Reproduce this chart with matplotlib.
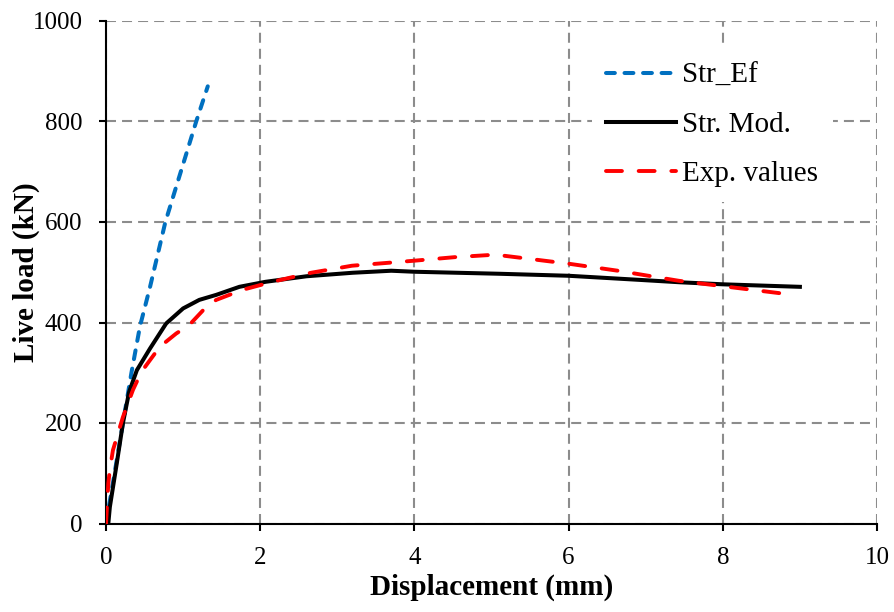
import numpy as np
import matplotlib
matplotlib.use("Agg")
import matplotlib.pyplot as plt

# Str_Ef (blue, short dashes)
ef_x = [0.0, 0.1, 0.22, 0.33, 0.44, 0.57, 0.67, 0.77, 0.97, 1.17, 1.32]
ef_y = [0, 90, 200, 300, 392, 470, 535, 600, 700, 800, 870]

# Str. Mod. (black solid)
mod_x = [0.03, 0.05, 0.14, 0.22, 0.3, 0.4, 0.57, 0.78, 1.0, 1.21, 1.43, 1.73,
         2.07, 2.6, 3.2, 3.7, 4.0, 5.1, 6.0, 6.9, 7.45, 8.0, 9.0]
mod_y = [0, 33, 120, 200, 262, 305, 348, 398, 428, 445, 455, 471,
         481, 492, 499, 503, 501, 497, 493, 485, 480, 476, 471]

# Exp. values (red dashed)
exp_x = [0.0, 0.03, 0.05, 0.09, 0.22, 0.35, 0.46, 0.57, 0.7, 0.91, 1.08, 1.3,
         1.43, 1.77, 2.16, 2.66, 3.19, 4.0, 4.52, 5.05, 5.42, 6.0, 6.64, 7.43,
         7.96, 8.81]
exp_y = [0, 80, 107, 146, 212, 266, 302, 325, 352, 378, 395, 431,
         445, 465, 481, 499, 513, 523, 530, 535, 528, 517, 503, 483,
         473, 457]

x_ticks = [0, 2, 4, 6, 8, 10]
y_ticks = [0, 200, 400, 600, 800, 1000]

plt.rcParams['font.family'] = ['Liberation Serif', 'DejaVu Serif']

fig = plt.figure(figsize=(8.94, 6.12), dpi=100)
ax = fig.add_axes([106 / 894, 1 - 523.5 / 612, (877 - 106) / 894, (523.5 - 21) / 612])

ax.plot(ef_x, ef_y, color="#0070C0", lw=2.9, linestyle=(0, (2.2, 2.4)),
        dash_capstyle="round", solid_capstyle="round", label="Str_Ef", zorder=3)
ax.plot(mod_x, mod_y, color="black", lw=2.9, solid_joinstyle="round",
        label="Str. Mod.", zorder=4)
ax.plot(exp_x, exp_y, color="#FF0000", lw=2.8, linestyle=(0, (4.1, 4.3)),
        dash_capstyle="round", label="Exp. values", zorder=5)

ax.set_xlim(0, 10)
ax.set_ylim(0, 1000)
ax.set_xticks(x_ticks)
ax.set_yticks(y_ticks)
ax.grid(True, color="#8C8C8C", linestyle=(0, (4.8, 2.9)), lw=1.5)
ax.set_axisbelow(True)
for s in ["top", "right"]:
    ax.spines[s].set_visible(False)
for s in ["left", "bottom"]:
    ax.spines[s].set_linewidth(1.5)
ax.tick_params(direction="out", length=5, width=1.5, labelsize=18, pad=12)

ax.set_xlabel("Displacement (mm)", fontsize=21, fontweight="bold")
ax.set_ylabel("Live load (kN)", fontsize=21, fontweight="bold")
ax.xaxis.set_label_coords(0.5, -0.1005)
ax.yaxis.set_label_coords(-0.0862, 0.5)

# legend sits on a white box that hides the grid behind it
leg = ax.legend(loc="upper left", bbox_to_anchor=(0.630, 0.946), frameon=True,
                fontsize=21, handlelength=2.4, handletextpad=0.2, labelspacing=0.78,
                borderpad=0.5, borderaxespad=0, fancybox=False, framealpha=1)
leg.get_frame().set_facecolor("white")
leg.get_frame().set_edgecolor("none")

fig.savefig("out.png", dpi=100)
